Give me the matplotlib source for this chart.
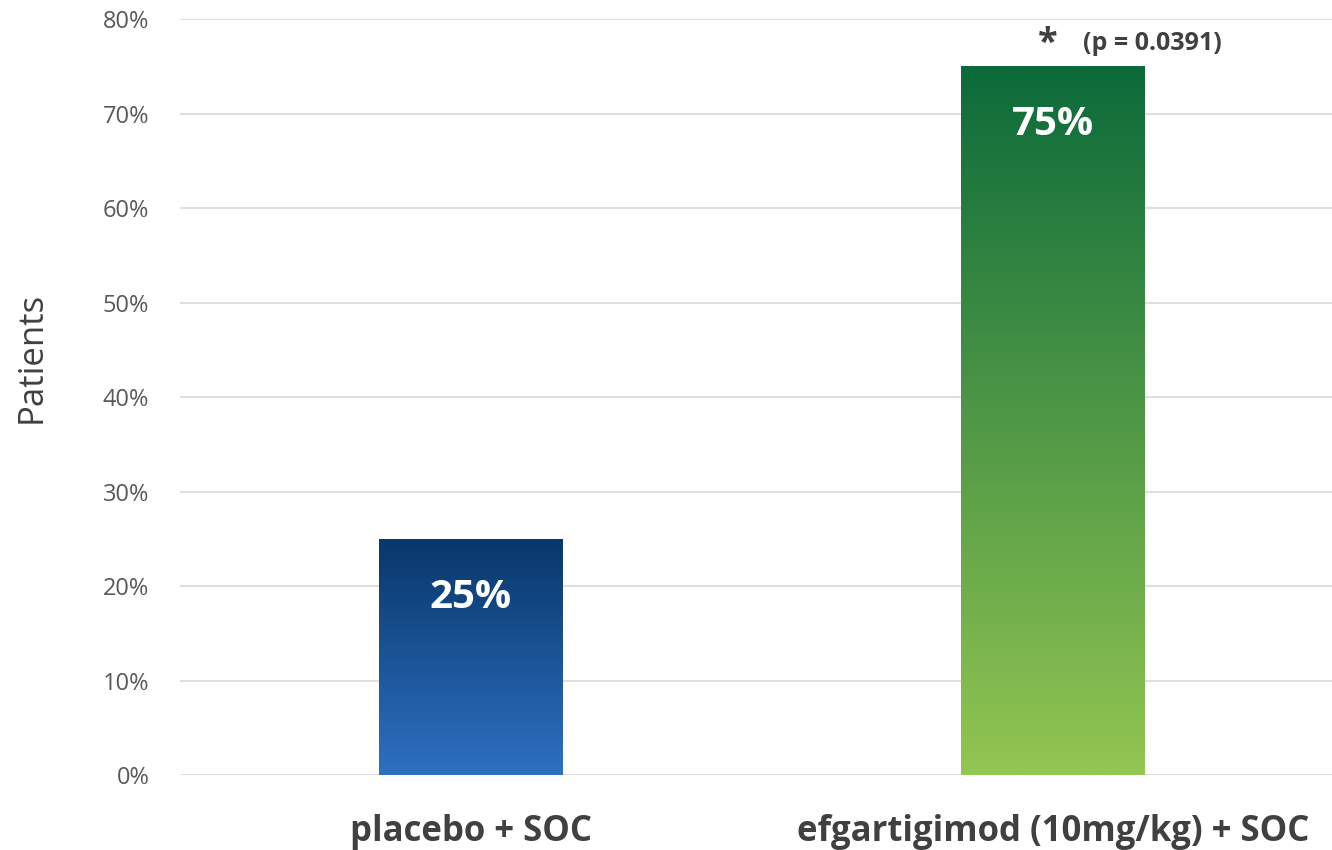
import numpy as np
import matplotlib.pyplot as plt
from matplotlib.colors import LinearSegmentedColormap
from matplotlib.patches import Rectangle

categories = ["placebo + SOC", "efgartigimod (10mg/kg) + SOC"]
values = [25, 75]
value_labels = ["25%", "75%"]
yticks = [0, 10, 20, 30, 40, 50, 60, 70, 80]
pvalue_text = "(p = 0.0391)"

# top colour, bottom colour per bar
grad_colors = [("#08376a", "#2e70c2"), ("#0c6a3a", "#93c652")]

plt.rcParams['font.family'] = ['Open Sans', 'DejaVu Sans']

fig = plt.figure(figsize=(13.32, 8.5), dpi=100)
ax = fig.add_axes([0.135, 0.0882, 0.865, 0.8894])

x = np.arange(len(categories))
width = 0.316
bars = ax.bar(x, values, width=width, color="none", edgecolor="none", zorder=3)

# gradient fill for each bar
for bar, (top, bot) in zip(bars, grad_colors):
    cmap = LinearSegmentedColormap.from_list("g", [bot, top])
    x0, y0 = bar.get_x(), bar.get_y()
    w, h = bar.get_width(), bar.get_height()
    grad = np.linspace(0, 1, 256).reshape(-1, 1)
    im = ax.imshow(grad, cmap=cmap, origin="lower", aspect="auto",
                   extent=[x0, x0 + w, y0, y0 + h], zorder=3)
    clip = Rectangle((x0, y0), w, h, transform=ax.transData)
    im.set_clip_path(clip)

ax.set_xlim(-0.5, 1.479)
ax.set_ylim(0, 80)

for xi, v, lab in zip(x, values, value_labels):
    ax.text(xi, v - 6.2, lab, ha="center", va="center", color="white",
            fontsize=29, fontweight="bold", zorder=4)

ax.text(x[1] - 0.01, values[1] + 2.4, "*", ha="center", va="center",
        fontsize=26, fontweight="bold", color="#404040")
ax.text(x[1] + 0.17, values[1] + 2.4, pvalue_text, ha="center", va="center",
        fontsize=18, fontweight="bold", color="#404040")

ax.set_yticks(yticks)
ax.set_yticklabels([f"{t}%" for t in yticks], fontsize=17, color="#595959")
ax.set_xticks(x)
ax.set_xticklabels(categories, fontsize=25, fontweight="bold", color="#404040")
ax.tick_params(axis="both", length=0)
ax.tick_params(axis="y", pad=22)
ax.tick_params(axis="x", pad=28)

ax.yaxis.grid(True, color="#d9d9d9", linewidth=1.2, zorder=0)
ax.set_axisbelow(True)
for s in ax.spines.values():
    s.set_visible(False)

ax.set_ylabel("Patients", fontsize=25, color="#404040")
ax.yaxis.set_label_coords(-0.114, 0.553)

fig.savefig("out.png", dpi=100)
